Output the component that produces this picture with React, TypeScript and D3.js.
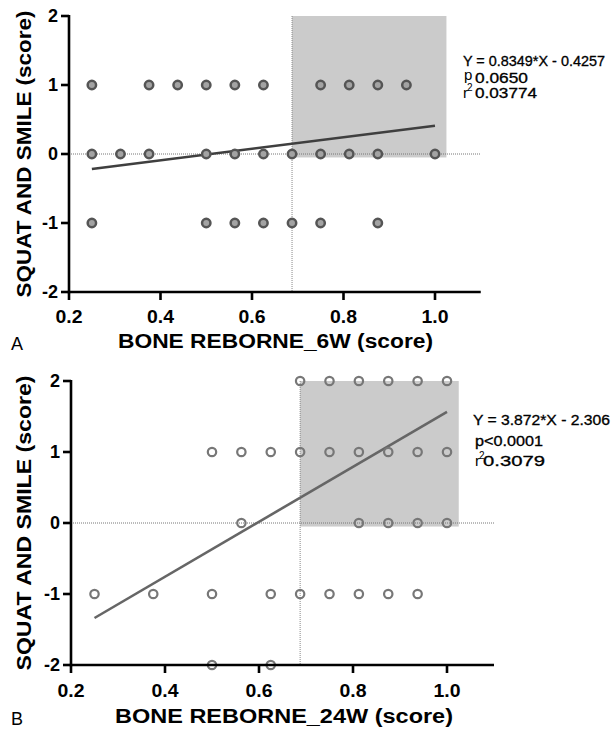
import React from "react";
import * as d3 from "d3";

// ---- data ----
const xTicks = [0.2, 0.4, 0.6, 0.8, 1.0];
const yTicks = [-2, -1, 0, 1, 2];

// Panel A (6W)
const aY1 = [0.25, 0.375, 0.4375, 0.5, 0.5625, 0.625, 0.75, 0.8125, 0.875, 0.9375];
const aY0 = [0.25, 0.3125, 0.375, 0.5, 0.5625, 0.625, 0.6875, 0.75, 0.8125, 0.875, 1.0];
const aYm1 = [0.25, 0.5, 0.5625, 0.625, 0.6875, 0.75, 0.875];
const aSlope = 0.8349;
const aIntercept = -0.4257;

// Panel B (24W)
const bY2 = [0.6875, 0.75, 0.8125, 0.875, 0.9375, 1.0];
const bY1 = [0.5, 0.5625, 0.625, 0.6875, 0.75, 0.8125, 0.875, 0.9375, 1.0];
const bY0 = [0.5625, 0.8125, 0.875, 0.9375, 1.0];
const bYm1 = [0.25, 0.375, 0.5, 0.625, 0.6875, 0.75, 0.8125, 0.875, 0.9375];
const bYm2 = [0.5, 0.625];
const bSlope = 3.872;
const bIntercept = -2.306;

const cutX = 0.6875;
const shadeX1 = 1.025;
const shadeY0 = -0.05;
const lineRange = [0.25, 1.0];

type Pt = { x: number; y: number };
const rows = (groups: [number, number[]][]): Pt[] =>
  groups.flatMap(([y, xs]) => xs.map((x) => ({ x, y })));

const aPoints = rows([[1, aY1], [0, aY0], [-1, aYm1]]);
const bPoints = rows([[2, bY2], [1, bY1], [0, bY0], [-1, bYm1], [-2, bYm2]]);

const FONT = "'Liberation Sans', Arial, sans-serif";

type PanelProps = {
  x0: number; x1: number; yTop: number; yBot: number;
  points: Pt[]; slope: number; intercept: number;
  markerStroke: string; markerFill: string; markerSW: number; markerR: number;
  lineColor: string;
  xTitle: string; xTitleLen: number; xTitleX: number; xTitleY: number;
  yTitleLen: number;
  letter: string; letterY: number;
  eq: string; eqLen: number; eqX: number; eqY: number;
  pLabel: React.ReactNode;
  rX: number; r2: string; r2Y: number; r2X: number; r2Len: number;
  tickLabelY: number;
};

const thick = { stroke: "#000", strokeWidth: 0.3 };

function Panel(p: PanelProps) {
  const x = d3.scaleLinear().domain([0.2, 1.1]).range([p.x0, p.x1]);
  const y = d3.scaleLinear().domain([-2, 2]).range([p.yBot, p.yTop]);
  const line = d3.line<number>().x((v) => x(v)).y((v) => y(p.slope * v + p.intercept));
  const yMid = (p.yTop + p.yBot) / 2;
  return (
    <g fontFamily={FONT}>
      <rect x={x(cutX)} y={y(2)} width={x(shadeX1) - x(cutX)} height={y(shadeY0) - y(2)} fill="#cbcbcb" />
      <line x1={x(cutX)} x2={x(cutX)} y1={y(2)} y2={y(-2)} stroke="#888" strokeWidth={1} strokeDasharray="1,1" />
      <line x1={x(0.2)} x2={x(1.1)} y1={y(0)} y2={y(0)} stroke="#777" strokeWidth={1} strokeDasharray="1,1" />
      <path d={line(lineRange) || ""} stroke={p.lineColor} strokeWidth={2.6} fill="none" />
      {p.points.map((d, i) => (
        <circle key={i} cx={x(d.x)} cy={y(d.y)} r={p.markerR} fill={p.markerFill} stroke={p.markerStroke} strokeWidth={p.markerSW} />
      ))}
      {/* axes */}
      <line x1={x(0.2)} x2={x(0.2)} y1={y(2) - 1} y2={y(-2) + 1.2} stroke="#000" strokeWidth={2.6} />
      <line x1={x(0.2) - 1.2} x2={x(1.1)} y1={y(-2)} y2={y(-2)} stroke="#000" strokeWidth={2.6} />
      {yTicks.map((t) => (
        <g key={"y" + t}>
          <line x1={x(0.2) - 8} x2={x(0.2)} y1={y(t)} y2={y(t)} stroke="#000" strokeWidth={2.6} />
          <text x={x(0.2) - 11} y={y(t) + 6} textAnchor="end" fontSize={18} fontWeight="bold">{t}</text>
        </g>
      ))}
      {xTicks.map((t) => (
        <g key={"x" + t}>
          <line x1={x(t)} x2={x(t)} y1={y(-2)} y2={y(-2) + 8} stroke="#000" strokeWidth={2.6} />
          <text x={x(t)} y={p.tickLabelY} textAnchor="middle" fontSize={18} fontWeight="bold" textLength={27} lengthAdjust="spacingAndGlyphs">{d3.format(".1f")(t)}</text>
        </g>
      ))}
      <text x={p.xTitleX} y={p.xTitleY} textAnchor="middle" fontSize={20} fontWeight="bold" textLength={p.xTitleLen} lengthAdjust="spacingAndGlyphs">{p.xTitle}</text>
      <text transform={`translate(31,${yMid}) rotate(-90)`} textAnchor="middle" fontSize={21} fontWeight="bold" textLength={p.yTitleLen} lengthAdjust="spacingAndGlyphs">SQUAT AND SMILE (score)</text>
      <text x={11} y={p.letterY} fontSize={18}>{p.letter}</text>
      <text x={p.eqX} y={p.eqY} fontSize={14} textLength={p.eqLen} lengthAdjust="spacingAndGlyphs" {...thick}>{p.eq}</text>
      {p.pLabel}
      <text x={p.rX} y={p.r2Y} fontSize={15}>r</text>
      <text x={p.rX + 4} y={p.r2Y - 7.5} fontSize={10}>2</text>
      <text x={p.r2X} y={p.r2Y} fontSize={14} textLength={p.r2Len} lengthAdjust="spacingAndGlyphs" {...thick}>{p.r2}</text>
    </g>
  );
}

export default function App() {
  return (
    <svg width={613} height={730} style={{ position: "absolute", left: 0, top: 0, background: "#fff" }}>
      <rect width={613} height={730} fill="#fff" />
      <Panel
        x0={69} x1={480.75} yTop={16} yBot={292}
        points={aPoints} slope={aSlope} intercept={aIntercept}
        markerStroke="#555" markerFill="#a3a3a3" markerSW={2.5} markerR={4.2}
        lineColor="#3f3f3f"
        xTitle="BONE REBORNE_6W (score)" xTitleLen={315} xTitleX={275.5} xTitleY={348}
        yTitleLen={287}
        letter="A" letterY={350}
        eq="Y = 0.8349*X - 0.4257" eqLen={142} eqX={463} eqY={66}
        pLabel={
          <g>
            <text x={464} y={80} fontSize={15}>p</text>
            <text x={475} y={83} fontSize={14} textLength={53} lengthAdjust="spacingAndGlyphs" {...thick}>0.0650</text>
          </g>
        }
        rX={463} r2="0.03774" r2X={475} r2Y={98} r2Len={62}
        tickLabelY={323}
      />
      <Panel
        x0={71} x1={494} yTop={381} yBot={665}
        points={bPoints} slope={bSlope} intercept={bIntercept}
        markerStroke="#777" markerFill="none" markerSW={2.2} markerR={4.2}
        lineColor="#666"
        xTitle="BONE REBORNE_24W (score)" xTitleLen={338} xTitleX={284} xTitleY={723}
        yTitleLen={295}
        letter="B" letterY={725}
        eq="Y = 3.872*X - 2.306" eqLen={137} eqX={473} eqY={425}
        pLabel={
          <text x={475} y={446} fontSize={14} textLength={68} lengthAdjust="spacingAndGlyphs" {...thick}>p&lt;0.0001</text>
        }
        rX={475} r2="0.3079" r2X={483} r2Y={466} r2Len={62}
        tickLabelY={697}
      />
    </svg>
  );
}
